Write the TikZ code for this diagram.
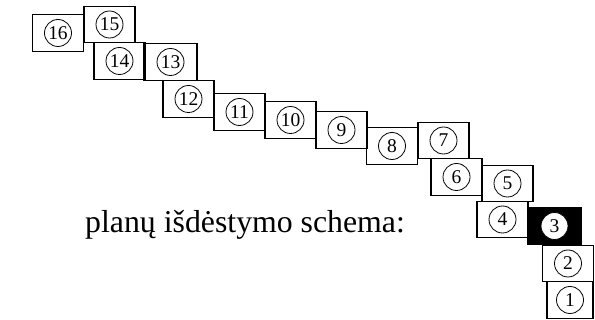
\documentclass[tikz,border=0pt]{standalone}
\usepackage{fontspec}
\setmainfont{Liberation Serif}
\usetikzlibrary{positioning}

\begin{document}
\begin{tikzpicture}[
    x=1pt, y=-1pt,
    plan/.style={draw, line width=1.3pt, inner sep=0pt, minimum width=51pt, minimum height=36.5pt},
    dark/.style={plan, fill=black},
    num/.style={circle, draw, line width=0.8pt, inner sep=0pt, minimum size=27pt, font=\fontsize{19.5}{19.5}\selectfont},
    lbl/.style={font=\fontsize{31.8}{31.8}\selectfont, inner sep=0pt}
]
\useasboundingbox (0,0) rectangle (595,320);
\node[plan] (p16) at (58,33)      {}; \node[num] at (p16) {16};
\node[plan] (p15) at (109.5,24.5) {}; \node[num] at (p15) {15};
\node[plan] (p14) at (119.5,61)   {}; \node[num] at (p14) {14};
\node[plan, minimum width=53pt] (p13) at (170.5,62) {}; \node[num] at (p13) {13};
\node[plan] (p12) at (188.5,99)   {}; \node[num] at (p12) {12};
\node[plan] (p11) at (239.5,112)  {}; \node[num] at (p11) {11};
\node[plan] (p10) at (290.5,120)  {}; \node[num] at (p10) {10};
\node[plan] (p9)  at (341.5,130)  {}; \node[num] at (p9)  {9};
\node[plan] (p8)  at (392,146)    {}; \node[num] at (p8)  {8};
\node[plan] (p7)  at (443.5,140.5){}; \node[num] at (p7)  {7};
\node[plan] (p6)  at (456.5,177)  {}; \node[num] at (p6)  {6};
\node[plan] (p5)  at (507.5,183.5){}; \node[num] at (p5)  {5};
\node[plan] (p4)  at (502.5,219.5){}; \node[num] at (p4)  {4};
\node[dark, minimum width=53pt] (p3) at (554.5,226) {}; \node[num, fill=white] at (p3) {3};
\node[plan] (p2)  at (568,263.5)  {}; \node[num] at (p2)  {2};
\node[plan, minimum width=46pt] (p1) at (570,300) {}; \node[num] at (p1) {1};
\node[lbl, anchor=base west] (title) at (85,233) {planų išdėstymo schema:};
\end{tikzpicture}
\end{document}
